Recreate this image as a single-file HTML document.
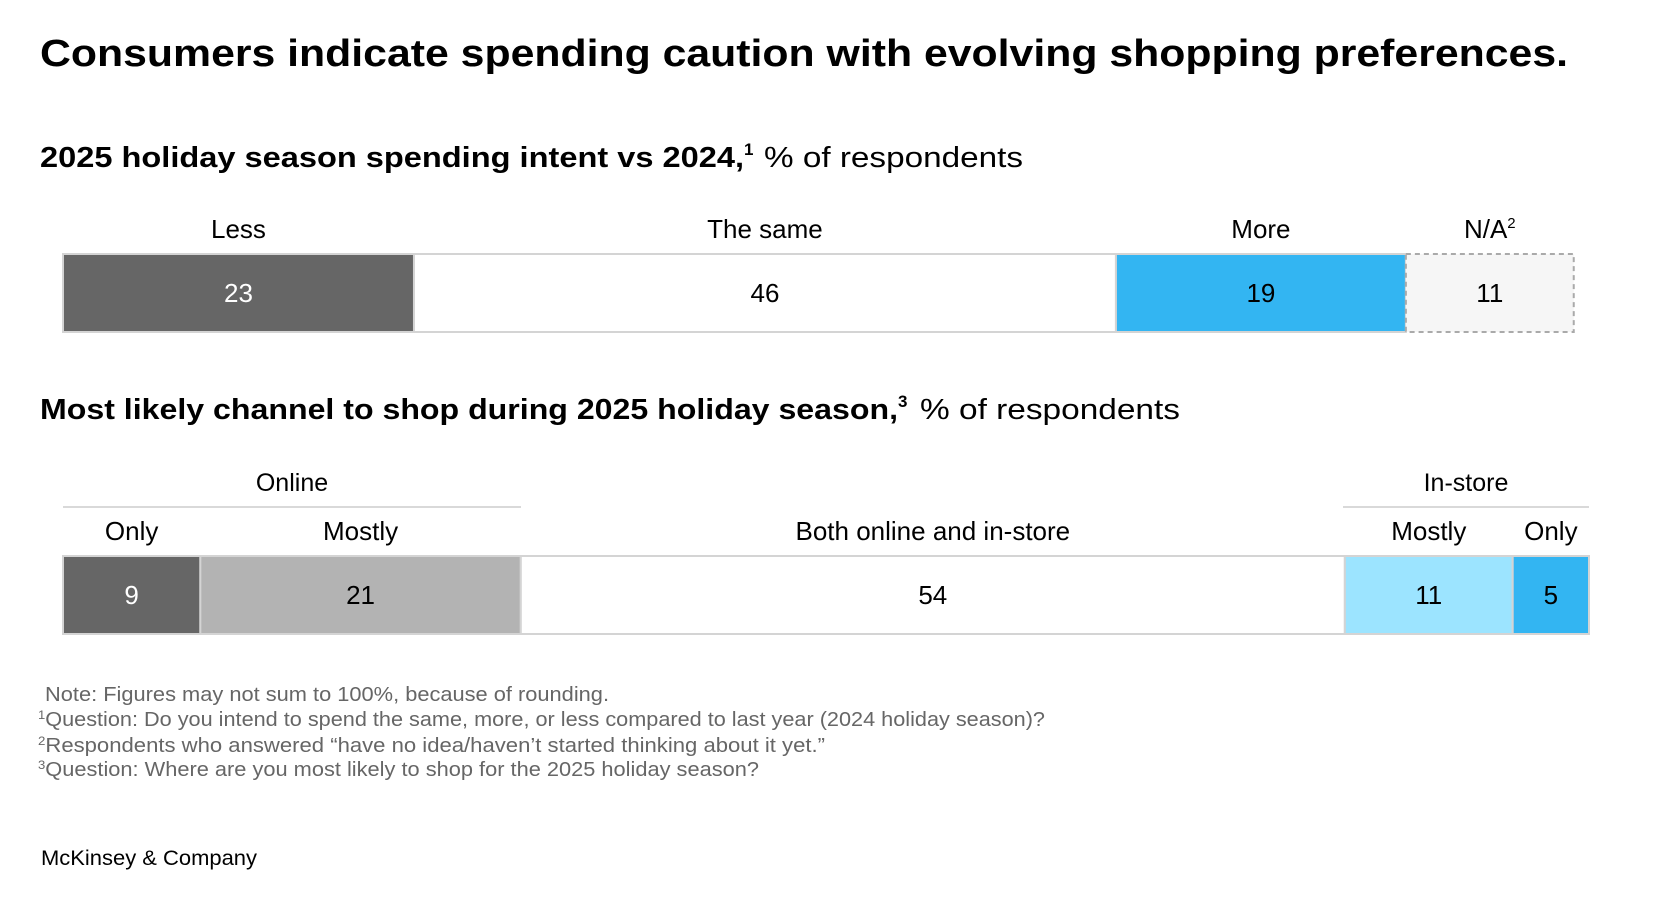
<!DOCTYPE html>
<html><head><meta charset="utf-8"><style>
html,body{margin:0;padding:0;background:#fff;}
svg{display:block;font-family:"Liberation Sans",sans-serif;}
</style></head><body>
<svg id="chart" width="1674" height="914" viewBox="0 0 1674 914">
<text x="40" y="66" font-size="38" font-weight="bold" fill="#000" textLength="1528" lengthAdjust="spacingAndGlyphs">Consumers indicate spending caution with evolving shopping preferences.</text>
<text x="40" y="167" font-size="29" fill="#000"><tspan font-weight="bold" textLength="704" lengthAdjust="spacingAndGlyphs">2025 holiday season spending intent vs 2024,</tspan><tspan font-size="17" dy="-12" font-weight="bold">1</tspan><tspan dy="12" x="764" textLength="259" lengthAdjust="spacingAndGlyphs">% of respondents</tspan></text>
<text x="40" y="419" font-size="29" fill="#000"><tspan font-weight="bold" textLength="858" lengthAdjust="spacingAndGlyphs">Most likely channel to shop during 2025 holiday season,</tspan><tspan font-size="17" dy="-12" font-weight="bold">3</tspan><tspan dy="12" x="920" textLength="260" lengthAdjust="spacingAndGlyphs">% of respondents</tspan></text>
<g id="bar1"></g>
<g id="bar2"></g>
<line x1="63" y1="507" x2="521" y2="507" stroke="#d9d9d9" stroke-width="2"/>
<text x="292" y="491" font-size="25" text-anchor="middle" fill="#000">Online</text>
<line x1="1343" y1="507" x2="1589" y2="507" stroke="#d9d9d9" stroke-width="2"/>
<text x="1466" y="491" font-size="25" text-anchor="middle" fill="#000">In-store</text>
<g font-size="20" fill="#666">
<text x="45" y="701" textLength="564" lengthAdjust="spacingAndGlyphs">Note: Figures may not sum to 100%, because of rounding.</text>
<text x="38" y="726" textLength="1007" lengthAdjust="spacingAndGlyphs"><tspan font-size="12" dy="-7">1</tspan><tspan dy="7">Question: Do you intend to spend the same, more, or less compared to last year (2024 holiday season)?</tspan></text>
<text x="38" y="752" textLength="787" lengthAdjust="spacingAndGlyphs"><tspan font-size="12" dy="-7">2</tspan><tspan dy="7">Respondents who answered “have no idea/haven’t started thinking about it yet.”</tspan></text>
<text x="38" y="776" textLength="721" lengthAdjust="spacingAndGlyphs"><tspan font-size="12" dy="-7">3</tspan><tspan dy="7">Question: Where are you most likely to shop for the 2025 holiday season?</tspan></text>
</g>
<text x="41" y="865" font-size="21" fill="#000" textLength="216" lengthAdjust="spacingAndGlyphs">McKinsey &amp; Company</text>
</svg>
<script>
const spendCategories = ["Less", "The same", "More", "N/A"];
const spendValues = [23, 46, 19, 11];
const channelCategories = ["Only", "Mostly", "Both online and in-store", "Mostly", "Only"];
const channelValues = [9, 21, 54, 11, 5];

const NS = "http://www.w3.org/2000/svg";
const X0 = 63, UNIT = 15.26;
function xScale(v){ return X0 + v * UNIT; }
function mk(tag, attrs, parent){
  const e = document.createElementNS(NS, tag);
  for (const k in attrs) e.setAttribute(k, attrs[k]);
  parent.appendChild(e); return e;
}
function drawBar(gId, cats, vals, styles, top, h, labelY, supIdx){
  const g = document.getElementById(gId);
  let cum = 0;
  vals.forEach((v, i) => {
    const x1 = xScale(cum), x2 = xScale(cum + v);
    cum += v;
    const s = styles[i];
    const r = mk("rect", {x: x1, y: top, width: x2 - x1, height: h, fill: s.fill, stroke: s.stroke, "stroke-width": 2}, g);
    if (s.dash) r.setAttribute("stroke-dasharray", "5,4");
    
    
    const t = mk("text", {x: (x1 + x2) / 2, y: top + h / 2 + 9, "font-size": 26, "text-anchor": "middle", fill: s.text}, g);
    t.textContent = v;
    
    
    const l = mk("text", {x: (x1 + x2) / 2, y: labelY, "font-size": 26, "text-anchor": "middle", fill: "#000"}, g);
    l.textContent = cats[i];
    if (i === supIdx) {
      const sp = mk("tspan", {"font-size": 15, dy: -10}, l);
      sp.textContent = "2";
    }
    
    
  });
}
drawBar("bar1", spendCategories, spendValues, [
  {fill:"#666666", stroke:"#d4d4d4", text:"#fff"},
  {fill:"#ffffff", stroke:"#d4d4d4", text:"#000"},
  {fill:"#33b5f2", stroke:"#d4d4d4", text:"#000"},
  {fill:"#f6f6f6", stroke:"#aaaaaa", text:"#000", dash:true}
], 254, 78, 238, 3);
drawBar("bar2", channelCategories, channelValues, [
  {fill:"#666666", stroke:"#d4d4d4", text:"#fff"},
  {fill:"#b3b3b3", stroke:"#d4d4d4", text:"#000"},
  {fill:"#ffffff", stroke:"#d4d4d4", text:"#000"},
  {fill:"#9ce4ff", stroke:"#d4d4d4", text:"#000"},
  {fill:"#33b5f2", stroke:"#d4d4d4", text:"#000"}
], 556, 78, 540, -1);
</script>
</body></html>
